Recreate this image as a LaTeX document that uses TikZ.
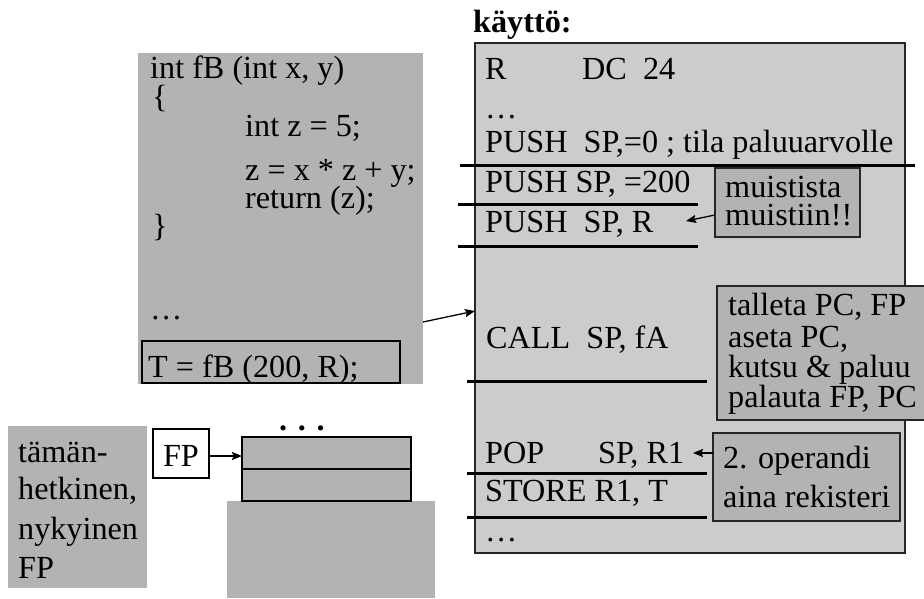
\documentclass[tikz,border=0pt]{standalone}
\usepackage{fontspec}
\setmainfont{Liberation Serif}
\usetikzlibrary{arrows.meta}
\definecolor{dgray}{RGB}{179,179,179}
\definecolor{lgray}{RGB}{204,204,204}
\begin{document}
\begin{tikzpicture}[x=1pt,y=-1pt,
  txt/.style={anchor=base west, inner sep=0pt, font=\fontsize{32.2}{36}\selectfont},
  area/.style={anchor=north west, inner sep=0pt, outer sep=0pt},
  framed/.style={draw=black!85, line width=1.2pt},
  sepline/.style={line width=3pt},
  arr/.style={-{Stealth[length=10pt,width=8pt,inset=1.5pt]}, line width=1.3pt}]
\useasboundingbox (0,0) rectangle (924,599);

% --- source code box ---
\node[area, fill=dgray, minimum width=285pt, minimum height=331pt] (code) at (138,53) {};
\node[txt] (c1) at (150,79) {int fB (int x, y)};
\node[txt] (c2) at (152,108) {\{};
\node[txt] (c3) at (245,137) {int z = 5;};
\node[txt] (c4) at (245,180) {z = x * z + y;};
\node[txt] (c5) at (245,208) {return (z);};
\node[txt] (c6) at (152,236) {\}};
\node[txt] (c7) at (150,319) {…};
\node[area, draw=black, line width=2.2pt, minimum width=258pt, minimum height=42pt] (callbox) at (142,341) {};
\node[txt] (c8) at (148,377) {T = fB (200, R);};

% --- program box ---
\node[txt, font=\fontsize{32.2}{36}\selectfont\bfseries] (title) at (473,33) {käyttö:};
\node[area, fill=lgray, framed, minimum width=430pt, minimum height=510pt] (prog) at (475,43) {};
\node[txt] (r1) at (485,80) {R};
\node[txt] (r1b) at (582,80) {DC\ \ 24};
\node[txt] (r2) at (485,119) {…};
\node[txt] (r3) at (485,153) {PUSH\ \ SP,=0 ; tila paluuarvolle};
\node[txt] (r4) at (485,193) {PUSH SP, =200};
\node[txt] (r5) at (485,233) {PUSH\ \ SP, R};
\node[txt] (r6) at (486,348) {CALL\ \ SP, fA};
\node[txt] (r7) at (485,463) {POP};
\node[txt] (r7b) at (598,463) {SP, R1};
\node[txt] (r8) at (485,501) {STORE R1, T};
\node[txt] (r9) at (485,541) {…};

\draw[sepline] (460,166) -- (915,166);
\draw[sepline] (458,204) -- (698,204);
\draw[sepline] (458,246) -- (698,246);
\draw[sepline] (467,381) -- (707,381);
\draw[sepline] (467,473) -- (707,473);
\draw[sepline] (467,517) -- (707,517);

% --- notes ---
\node[area, fill=dgray, framed, minimum width=145pt, minimum height=69pt] (mem) at (715,168) {};
\node[txt] (m1) at (725,197) {muistista};
\node[txt] (m2) at (725,225) {muistiin!!};

\node[area, fill=dgray, framed, minimum width=215pt, minimum height=134pt] (callnote) at (717,286) {};
\node[txt] (n1) at (728,315) {talleta PC, FP};
\node[txt] (n2) at (728,347) {aseta PC,};
\node[txt] (n3) at (728,377) {kutsu \& paluu};
\node[txt] (n4) at (728,407) {palauta FP, PC};

\node[area, fill=dgray, framed, minimum width=187pt, minimum height=88pt] (opnote) at (713,433) {};
\node[txt] (o1) at (723,468) {2. operandi};
\node[txt] (o2) at (723,507) {aina rekisteri};

% --- bottom left ---
\node[area, fill=dgray, minimum width=139pt, minimum height=162pt] (now) at (8,426) {};
\node[txt] (t1) at (18,462) {tämän-};
\node[txt] (t2) at (18,499) {hetkinen,};
\node[txt] (t3) at (18,539) {nykyinen};
\node[txt] (t4) at (18,578) {FP};

\node[area, fill=white, draw=black, line width=1.2pt, minimum width=56pt, minimum height=49pt] (fpbox) at (153,429) {};
\node[txt, anchor=base] (fptxt) at (181,466) {FP};

\node[area, fill=dgray, minimum width=208pt, minimum height=97pt] (rest) at (227,501) {};
\node[area, fill=dgray, draw=black, line width=1.2pt, minimum width=169pt, minimum height=32pt] (cell1) at (242,437) {};
\node[area, fill=dgray, draw=black, line width=1.2pt, minimum width=169pt, minimum height=32pt] (cell2) at (242,469) {};
\node[txt, font=\fontsize{32.2}{36}\selectfont\bfseries] (dots) at (279,430) {. . .};

% --- connectors ---
\coordinate (a1s) at (423,322);
\coordinate (a1e) at (475,311);
\draw[arr] (a1s) -- (a1e);
\coordinate (a2s) at (715,215);
\coordinate (a2e) at (686,221);
\draw[arr] (a2s) -- (a2e);
\coordinate (a3s) at (713,453);
\coordinate (a3e) at (693,453);
\draw[arr] (a3s) -- (a3e);
\draw[arr] (fpbox.east |- 0,456) -- (cell1.west |- 0,456);
\end{tikzpicture}
\end{document}
